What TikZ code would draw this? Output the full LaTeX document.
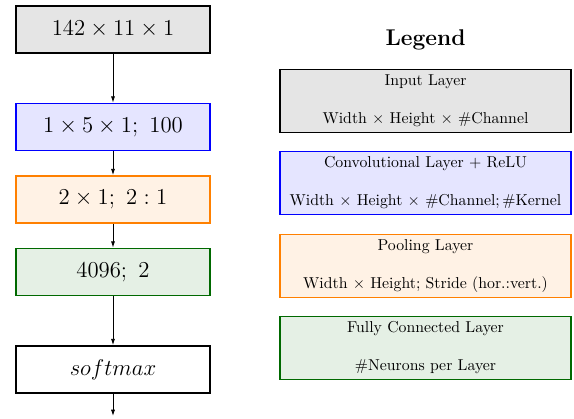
\documentclass[tikz,border=0pt]{standalone}
\usetikzlibrary{arrows.meta}
\definecolor{fcgreen}{RGB}{0,105,0}
\begin{document}
\begin{tikzpicture}[x=0.633pt,y=-0.633pt,
  layer/.style={draw, line width=1pt, minimum width=122.8pt, minimum height=29.8pt, inner sep=0pt, font=\Large},
  legbox/.style={draw, line width=1pt, minimum width=184.2pt, minimum height=39.9pt, inner sep=0pt, align=center},
  conn/.style={-{Latex[length=4pt,width=2.6pt]}, line width=0.55pt}]
\useasboundingbox (0,0) rectangle (574,419);
% main chain
\node[layer, fill=black!10] (in) at (113,29.5) {$142\times11\times1$};
\node[layer, draw=blue, fill=blue!10] (conv) at (113,127) {$1\times5\times1;\ 100$};
\node[layer, draw=orange, fill=orange!10] (pool) at (113,199.5) {$2\times1;\ 2:1$};
\node[layer, draw=fcgreen, fill=fcgreen!10] (fc) at (113,272) {$4096;\ 2$};
\node[layer, fill=white] (sm) at (113,369.5) {$softmax$};
\coordinate (out) at (113,416);
\draw[conn] (in) -- (conv);
\draw[conn] (conv) -- (pool);
\draw[conn] (pool) -- (fc);
\draw[conn] (fc) -- (sm);
\draw[conn] (sm) -- (out);
% legend
\node[font=\Large\bfseries] (legend) at (425.5,40) {Legend};
\node[legbox, fill=black!10] (l1) at (425.5,101) {Input Layer\\[12pt]Width $\times$ Height $\times$ \#Channel};
\node[legbox, draw=blue, fill=blue!10] (l2) at (425.5,183) {Convolutional Layer + ReLU\\[12pt]Width $\times$ Height $\times$ \#Channel;\,\#Kernel};
\node[legbox, draw=orange, fill=orange!10] (l3) at (425.5,266) {Pooling Layer\\[12pt]Width $\times$ Height; Stride (hor.:vert.)};
\node[legbox, draw=fcgreen, fill=fcgreen!10] (l4) at (425.5,348) {Fully Connected Layer\\[12pt]\#Neurons per Layer};
\end{tikzpicture}
\end{document}
